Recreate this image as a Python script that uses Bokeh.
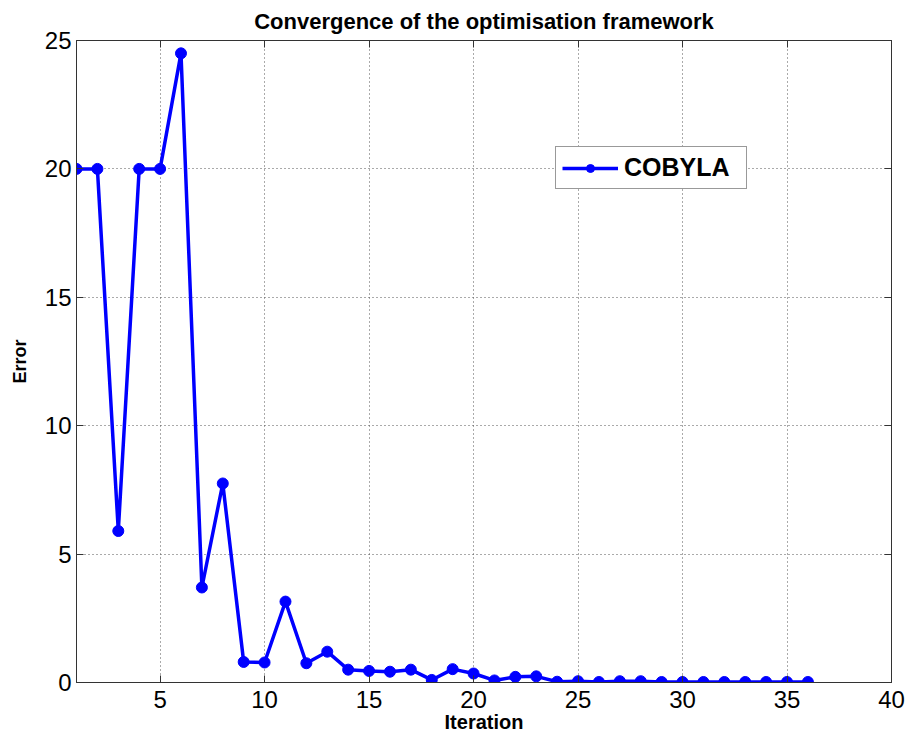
from bokeh.plotting import figure
from bokeh.models import (LinearAxis, FixedTicker, Range1d, Legend, LegendItem,
                          CustomJSTickFormatter)
from bokeh.embed import file_html
from bokeh.resources import INLINE

iterations = list(range(1, 37))
error = [20.0, 20.0, 5.9, 20.0, 20.0, 24.5, 3.7, 7.75, 0.8, 0.78,
         3.15, 0.75, 1.2, 0.5, 0.45, 0.42, 0.5, 0.1, 0.52, 0.35,
         0.08, 0.22, 0.24, 0.03, 0.05, 0.02, 0.05, 0.05, 0.02, 0.02,
         0.02, 0.02, 0.02, 0.02, 0.02, 0.02]
x_ticks = [5, 10, 15, 20, 25, 30, 35, 40]
y_ticks = [0, 5, 10, 15, 20, 25]

FONT = "Liberation Sans"
EDGE = "#333333"

p = figure(width=907, height=744, output_backend="svg", toolbar_location=None,
           x_range=Range1d(1, 40), y_range=Range1d(0, 25),
           min_border_left=76, min_border_right=16, min_border_top=40, min_border_bottom=62)

p.title.text = "Convergence of the optimisation framework"
p.title.align = "center"
p.title.text_font = FONT
p.title.text_font_size = "22px"
p.title.text_font_style = "bold"
p.title.text_color = "black"
p.title.text_line_height = 1.0
p.title.standoff = 13

p.outline_line_color = EDGE
p.outline_line_width = 1

for ax in (p.xaxis[0], p.yaxis[0]):
    ax.major_tick_in = 7
    ax.major_tick_out = 0
    ax.minor_tick_line_color = None
    ax.axis_line_color = EDGE
    ax.major_tick_line_color = EDGE
    ax.major_label_text_font = FONT
    ax.major_label_text_font_size = "24px"
    ax.major_label_text_color = "black"
    ax.axis_label_text_font = FONT
    ax.axis_label_text_font_style = "bold"
    ax.axis_label_text_color = "black"

p.xaxis[0].ticker = FixedTicker(ticks=x_ticks)
p.yaxis[0].ticker = FixedTicker(ticks=y_ticks)
p.xaxis[0].axis_label = "Iteration"
p.yaxis[0].axis_label = "Error"
p.xaxis[0].axis_label_text_font_size = "20px"
p.yaxis[0].axis_label_text_font_size = "18px"
p.xaxis[0].axis_label_standoff = 0
p.xaxis[0].major_label_standoff = 8
p.yaxis[0].axis_label_standoff = 12
p.yaxis[0].major_label_standoff = 5

blank = CustomJSTickFormatter(code="return ''")
top_ax = LinearAxis(ticker=FixedTicker(ticks=x_ticks), formatter=blank, major_tick_in=7,
                    major_tick_out=0, minor_tick_line_color=None,
                    axis_line_color=EDGE, major_tick_line_color=EDGE,
                    major_label_standoff=0)
right_ax = LinearAxis(ticker=FixedTicker(ticks=y_ticks), formatter=blank, major_tick_in=7,
                      major_tick_out=0, minor_tick_line_color=None,
                      axis_line_color=EDGE, major_tick_line_color=EDGE,
                      major_label_standoff=0)
p.add_layout(top_ax, "above")
p.add_layout(right_ax, "right")

p.xgrid.ticker = FixedTicker(ticks=[5, 10, 15, 20, 25, 30, 35])
p.ygrid.ticker = FixedTicker(ticks=[5, 10, 15, 20])
for g in (p.xgrid[0], p.ygrid[0]):
    g.grid_line_color = "#555555"
    g.grid_line_dash = "1 3"
    g.grid_line_width = 1

r_line = p.line(iterations, error, line_color="#0000ff", line_width=3.5)
r_pts = p.scatter(iterations, error, size=11, marker="circle", fill_color="#0000ff",
                  line_color="#0000ff")

legend = Legend(items=[LegendItem(label="COBYLA", renderers=[r_line, r_pts])],
                location=(479, 493))
legend.label_text_font = FONT
legend.label_text_font_size = "25px"
legend.label_text_font_style = "bold"
legend.label_text_color = "black"
legend.glyph_width = 56
legend.glyph_height = 20
legend.label_width = 116
legend.padding = 6
legend.margin = 0
legend.label_standoff = 6
legend.border_line_color = EDGE
legend.border_line_width = 1
legend.background_fill_alpha = 1
p.add_layout(legend, "center")

open("out.html", "w").write(file_html(p, INLINE))
